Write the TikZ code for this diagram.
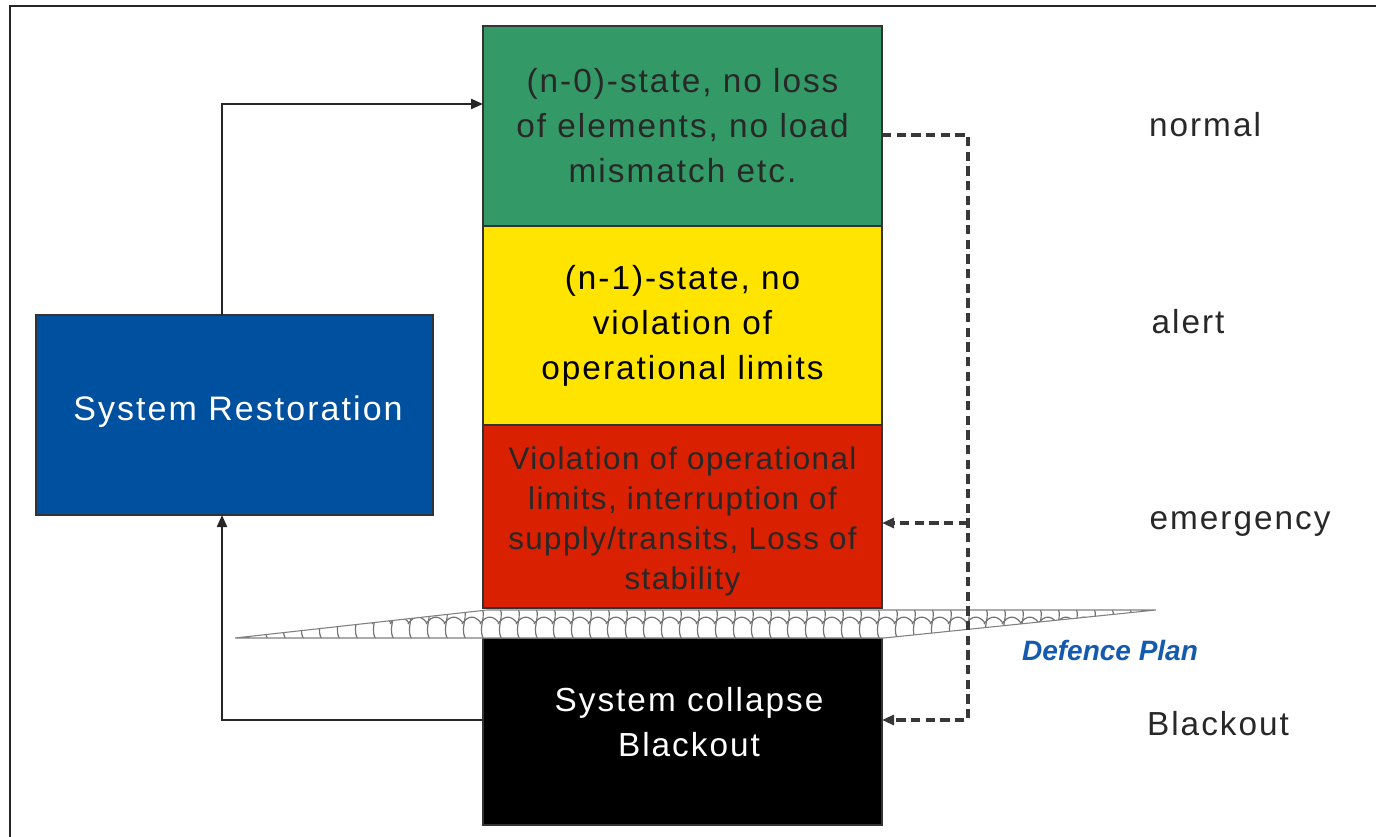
\documentclass[tikz,border=0pt]{standalone}
\usepackage{fontspec}
\setmainfont{Liberation Sans}
\newfontfamily\lsfont[LetterSpace=6]{Liberation Sans}
\newfontfamily\lsredfont[LetterSpace=4.5]{Liberation Sans}
\usetikzlibrary{arrows.meta}
\definecolor{cgreen}{RGB}{51,153,102}
\definecolor{cyellow}{RGB}{255,228,0}
\definecolor{cred}{RGB}{217,32,0}
\definecolor{cblue}{RGB}{0,80,160}
\definecolor{ctext}{RGB}{40,40,40}
\definecolor{cdef}{RGB}{20,90,175}
\tikzset{
  statebox/.style={draw=black!80, line width=0.9pt, inner sep=0pt, outer sep=0pt,
    minimum width=299.25pt, align=center, font=\lsfont\fontsize{25}{33.75}\selectfont},
  sidelabel/.style={text=ctext, inner sep=0pt, font=\lsfont\fontsize{25}{30}\selectfont},
  arr/.style={line width=1.6pt, draw=black!85, -{Triangle[length=9pt,width=7.5pt]}},
  dasharr/.style={line width=2.4pt, draw=black!78, dash pattern=on 7pt off 4pt},
  scaleline/.style={draw=black!55, line width=0.9pt}
}
\begin{document}
\begin{tikzpicture}[x=0.75pt,y=-0.75pt]
\useasboundingbox (0,0) rectangle (1376,837);
% frame (left and top only)
\draw[line width=1.5pt, black!85] (10,837) -- (10,6) -- (1376,6);

% state boxes
\node[statebox, fill=cgreen, text=ctext, minimum height=150pt] (green) at (682.5,126)
  {(n-0)-state, no loss\\of elements, no load\\mismatch etc.};
\node[statebox, fill=cyellow, text=black, minimum height=149.25pt] (yellow) at (682.5,325.5)
  {(n-1)-state, no\\violation of\\operational limits};
\node[statebox, fill=cred, minimum height=137.25pt] (red) at (682.5,516.5) {};
\node[text=ctext, align=center, inner sep=0pt, font=\lsredfont\fontsize{23.5}{30}\selectfont]
  (redtext) at (682.5,521) {Violation of operational\\limits, interruption of\\supply/transits, Loss of\\stability};
\node[statebox, fill=black, text=white, minimum height=140.25pt] (black) at (682.5,731.5) {};
\node[text=white, align=center, inner sep=0pt, font=\lsfont\fontsize{25}{33.75}\selectfont]
  (blacktext) at (689,722) {System collapse\\Blackout};
\node[statebox, fill=cblue, text=white, minimum width=297.75pt, minimum height=150pt] (blue)
  at (234.5,415) {};
\node[text=white, inner sep=0pt, font=\lsfont\fontsize{25.5}{30}\selectfont] (bluetext)
  at (238,412) {System Restoration};

% defence plan band
\coordinate (b1) at (235,638);
\coordinate (b2) at (487,610);
\coordinate (b3) at (1156,610);
\coordinate (b4) at (884,638);
\begin{scope}
  \clip (b1) -- (b2) -- (b3) -- (b4) -- cycle;
  \fill[white] (200,600) rectangle (1200,650);
  \foreach \x in {226,244,...,1170} {
    \draw[scaleline] (\x,604) .. controls (\x+14,614) and (\x-6,630) .. (\x+10,644);
    \draw[scaleline] (\x+2,624) .. controls (\x+8,615) and (\x+15,615) .. (\x+21,623);
  }
\end{scope}
\draw[black!50, line width=0.8pt] (b1) -- (b2) -- (b3) -- (b4) -- cycle;

% restoration loop
\coordinate (c1) at (222,104);
\coordinate (c2) at (222,720);
\draw[arr] (blue.north -| c1) |- (green.west |- c1);
\draw[arr] (black.west |- c2) -| (blue.south -| c2);

% dashed defence arrows
\coordinate (d1) at (968,135);
\coordinate (d2) at (968,523);
\coordinate (d3) at (968,720);
\draw[dasharr, -{Triangle[length=9pt,width=7.5pt]}] (green.east |- d1) -| (d3) -- (black.east |- d3);
\draw[dasharr, -{Triangle[length=9pt,width=7.5pt]}] (d2) -- (red.east |- d2);

% side labels
\node[sidelabel] (lnormal) at (1205,125) {normal};
\node[sidelabel] (lalert) at (1188,322) {alert};
\node[sidelabel] (lemerg) at (1240,524) {emergency};
\node[sidelabel] (lblack) at (1218,724) {Blackout};
\node[text=cdef, inner sep=0pt, font=\bfseries\itshape\fontsize{21}{24}\selectfont]
  (ldef) at (1110,650) {Defence Plan};
\end{tikzpicture}
\end{document}
